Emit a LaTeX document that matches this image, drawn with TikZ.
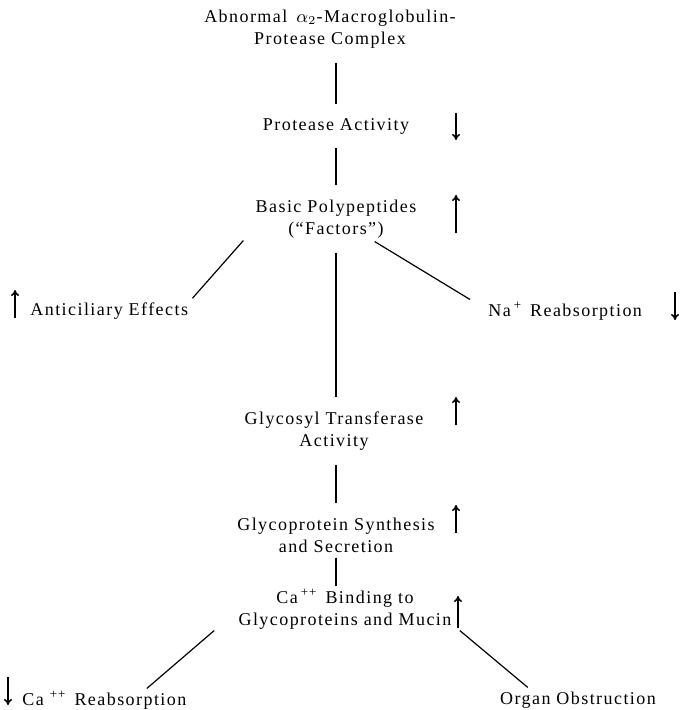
\documentclass[tikz,border=0pt]{standalone}
\usepackage{fontspec}
\setmainfont{Liberation Serif}[LetterSpace=8]
\usetikzlibrary{arrows.meta, positioning, calc}
\newcommand{\ionsup}[1]{\,\raisebox{0.85ex}{\fontsize{6.5}{7}\selectfont #1}\enspace}

\begin{document}
\begin{tikzpicture}[
  x=0.5pt, y=-0.5pt,
  label/.style={align=center, inner sep=0pt, font=\fontsize{9}{11}\selectfont},
  link/.style={line width=1pt, shorten <=7pt, shorten >=7pt},
  branch/.style={line width=0.6pt},
  trend/.style={-{To[length=3pt,width=4pt]}, line width=0.8pt},
]
\useasboundingbox (0,0) rectangle (681,710);

% Main chain
\node[label] (cplx) at (330,29) {Abnormal\enspace$\alpha_2$-Macroglobulin-\\Protease Complex};
\node[label] (prot) at (336,126) {Protease Activity};
\node[label] (fac) at (336,219) {Basic Polypeptides\\(``Factors'')};
\node[label] (gly) at (334,431) {Glycosyl Transferase\\Activity};
\node[label] (syn) at (336,535) {Glycoprotein Synthesis\\and Secretion};
\node[label] (ca) at (345,609) {Ca\ionsup{++}Binding to\\Glycoproteins and Mucin};

% Side effects
\node[label, anchor=west] (anti) at (30,311) {Anticiliary Effects};
\node[label, anchor=west] (na) at (488,311) {Na\ionsup{+}Reabsorption};
\node[label, anchor=west] (careab) at (22,700) {Ca\,\ionsup{++}Reabsorption};
\node[label] (organ) at (578,700) {Organ Obstruction};

% Links
\draw[link] (cplx.south -| prot.north) -- (prot.north);
\draw[link] (prot) -- (fac);
\draw[link] (fac) -- (gly.north -| fac.south);
\draw[link] (gly.south -| syn.north) -- (syn);
\draw[link, shorten <=2.5pt, shorten >=1pt] (syn.south) -- (syn.south |- ca.north);

% Branches
\draw[branch] ([xshift=-6pt, yshift=-1pt]fac.south west) -- ([xshift=2pt, yshift=2pt]anti.north east);
\draw[branch] ([xshift=-21pt, yshift=-1.5pt]fac.south east) -- ([xshift=-9pt, yshift=1pt]na.north west);
\draw[branch] ([xshift=-12pt, yshift=-0.5pt]ca.south west) -- ([xshift=-20pt, yshift=1pt]careab.north east);
\draw[branch] ([xshift=4pt, yshift=-0.5pt]ca.south east) -- ([xshift=14pt, yshift=2pt]organ.north west);

% Up / down trends
\draw[trend] (456,113) -- (456,140);
\draw[trend] (456,233) -- (456,195);
\draw[trend] (15,318) -- (15,290);
\draw[trend] (675,292) -- (675,320);
\draw[trend] (456,425) -- (456,397);
\draw[trend] (456,533) -- (456,505);
\draw[trend] (458,628) -- (458,596);
\draw[trend] (8,677) -- (8,705);

\end{tikzpicture}
\end{document}
